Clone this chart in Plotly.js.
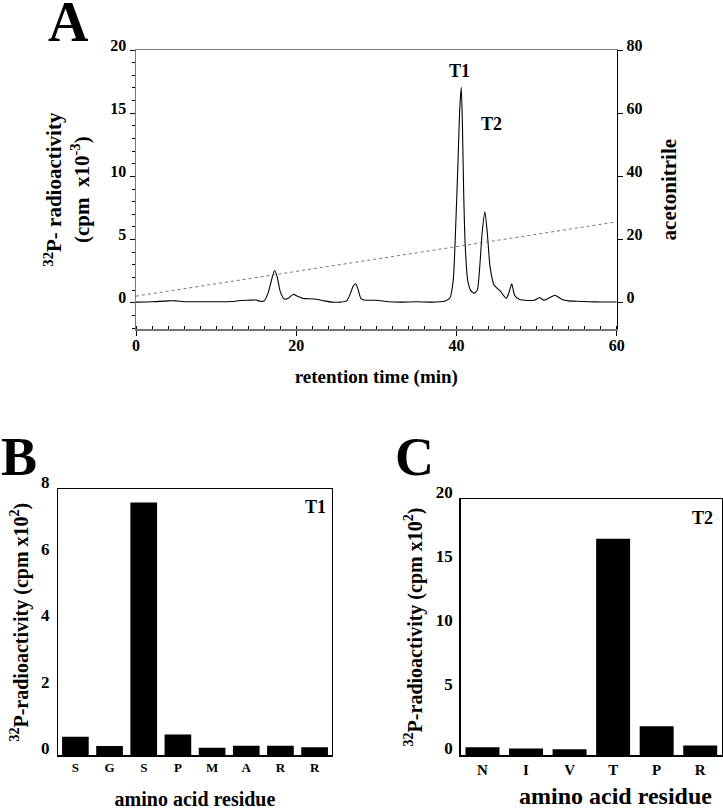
<!DOCTYPE html>
<html>
<head>
<meta charset="utf-8">
<script src="https://cdn.plot.ly/plotly-3.0.1.min.js"></script>
<style>html,body{margin:0;padding:0;background:#fff;}#chart{width:723px;height:810px;}</style>
</head>
<body>
<div id="chart"></div>
<script>
// Panel A: HPLC chromatogram
const retentionTime = [0, 2, 4, 5, 6, 8, 10, 12, 13, 14, 15, 15.5, 16, 16.5, 17, 17.3, 17.6, 18, 18.5, 19, 19.6, 20.2, 20.8, 21.5, 22.5, 23.5, 24.5, 25.5, 26.3, 26.8, 27.1, 27.4, 27.7, 28.1, 28.6, 30, 31.5, 33, 35, 37, 38.5, 39.2, 39.6, 39.9, 40.2, 40.4, 40.6, 40.75, 40.9, 41.1, 41.4, 41.75, 42.2, 42.6, 42.9, 43.2, 43.55, 43.85, 44.2, 44.7, 45.5, 46.2, 46.5, 46.9, 47.25, 47.75, 48.5, 49.7, 50.4, 50.9, 51.5, 52.3, 53.2, 54, 55, 56.5, 58, 60];
const radioactivity = [0.05, 0.08, 0.15, 0.15, 0.08, 0.08, 0.08, 0.1, 0.18, 0.2, 0.22, 0.12, 0.15, 0.8, 2.0, 2.55, 2.1, 0.9, 0.3, 0.35, 0.66, 0.5, 0.35, 0.32, 0.28, 0.15, 0.05, 0.05, 0.15, 0.8, 1.3, 1.5, 1.1, 0.3, 0.2, 0.2, 0.08, 0.05, 0.08, 0.05, 0.12, 0.4, 1.8, 6.0, 11.3, 15.2, 17.05, 13.9, 8.7, 4.4, 1.8, 1.0, 0.74, 1.0, 2.8, 5.5, 7.2, 5.5, 2.8, 1.4, 0.9, 0.35, 0.7, 1.5, 0.6, 0.3, 0.2, 0.2, 0.4, 0.2, 0.35, 0.6, 0.25, 0.15, 0.12, 0.08, 0.06, 0.06];
const gradientTime = [0, 60];
const acetonitrile = [2.1, 25.6];
const ticksA_x = [0, 20, 40, 60];
const ticksA_y = [0, 5, 10, 15, 20];
const ticksA_y2 = [0, 20, 40, 60, 80];

// Panel B: T1 sequencing
const residuesT1 = ['S', 'G', 'S', 'P', 'M', 'A', 'R', 'R'];
const countsT1 = [0.55, 0.27, 7.6, 0.62, 0.22, 0.28, 0.28, 0.23];
const ticksB_y = [0, 2, 4, 6, 8];

// Panel C: T2 sequencing
const residuesT2 = ['N', 'I', 'V', 'T', 'P', 'R'];
const countsT2 = [0.6, 0.5, 0.45, 16.9, 2.25, 0.75];
const ticksC_y = [0, 5, 10, 15, 20];

const FONT = 'Liberation Serif, Times New Roman, serif';
const W = 723, H = 810;
const px = v => v / W;
const py = v => 1 - v / H;
const bold = arr => arr.map(v => '<b>' + v + '</b>');

const idxT1 = residuesT1.map((_, i) => i);
const idxT2 = residuesT2.map((_, i) => i);

const traces = [
  {x: retentionTime, y: radioactivity, type: 'scatter', mode: 'lines',
   line: {color: '#000', width: 1.1, shape: 'spline', smoothing: 0.6},
   xaxis: 'x', yaxis: 'y', hoverinfo: 'skip'},
  {x: gradientTime, y: acetonitrile, type: 'scatter', mode: 'lines',
   line: {color: '#666', width: 0.9, dash: 'dot'},
   xaxis: 'x', yaxis: 'y2', hoverinfo: 'skip'},
  {x: idxT1, y: countsT1, type: 'bar', marker: {color: '#000'},
   xaxis: 'x2', yaxis: 'y3'},
  {x: idxT2, y: countsT2, type: 'bar', marker: {color: '#000'},
   xaxis: 'x3', yaxis: 'y4'}
];

const f = (s) => ({family: FONT, size: s, color: '#000'});

const layout = {
  width: W, height: H,
  margin: {l: 0, r: 0, t: 0, b: 0},
  paper_bgcolor: '#fff', plot_bgcolor: '#fff',
  showlegend: false,
  font: {family: FONT, color: '#000'},
  bargap: 0.22,
  xaxis: {
    domain: [px(136), px(616.7)], anchor: 'y', range: [0, 60],
    tickvals: ticksA_x, ticktext: bold(ticksA_x), ticks: 'outside', ticklen: 5, tickcolor: '#000',
    minor: {dtick: 2, ticks: 'inside', ticklen: 3, tickcolor: '#000', showgrid: false},
    showline: true, linecolor: '#777', linewidth: 1.5, mirror: true,
    showgrid: false, zeroline: false, tickfont: f(16), ticklabelstandoff: -4,
    title: {text: '<b>retention time (min)</b>', font: f(19), standoff: 16}
  },
  yaxis: {
    domain: [py(329.3), py(50)], anchor: 'x', range: [-2.1, 20],
    tickvals: ticksA_y, ticktext: bold(ticksA_y), ticks: 'outside', ticklen: 5, tickcolor: '#000',
    minor: {dtick: 1, ticks: 'outside', ticklen: 3, tickcolor: '#000', showgrid: false},
    showline: true, linecolor: '#777', linewidth: 1.5,
    showgrid: false, zeroline: false, tickfont: f(16), ticklabelshift: -5,
    title: {text: '<b><sup>32</sup>P- radioactivity<br>(cpm  x10<sup>-3</sup>)</b>', font: f(21), standoff: 15}
  },
  yaxis2: {
    overlaying: 'y', side: 'right', anchor: 'x', range: [-8.4, 80],
    tickvals: ticksA_y2, ticktext: bold(ticksA_y2), ticks: 'outside', ticklen: 5, tickcolor: '#000',
    showline: true, linecolor: '#000', linewidth: 1.5,
    showgrid: false, zeroline: false, tickfont: f(16), ticklabelshift: -5,
    title: {text: '<b>acetonitrile</b>', font: f(21), standoff: 20}
  },
  xaxis2: {
    domain: [px(58.3), px(331.7)], anchor: 'y3', range: [-0.5, residuesT1.length - 0.5],
    tickvals: idxT1, ticktext: bold(residuesT1), ticks: '', showline: true, linecolor: '#000', linewidth: 1.5, mirror: true,
    showgrid: false, zeroline: false, tickfont: f(13),
    title: {text: '<b>amino acid residue</b>', font: f(20), standoff: 24}
  },
  yaxis3: {
    domain: [py(755), py(489.3)], anchor: 'x2', range: [0, 8],
    tickvals: ticksB_y, ticktext: bold(ticksB_y), ticks: '', showline: true, linecolor: '#000', linewidth: 1.5, mirror: true,
    showgrid: false, zeroline: false, tickfont: f(17), ticklabelshift: -7, ticklabelstandoff: 4,
    title: {text: '<b><sup>32</sup>P-radioactivity (cpm x10<sup>2</sup>)</b>', font: f(20), standoff: 7}
  },
  xaxis3: {
    domain: [px(460.7), px(722)], anchor: 'y4', range: [-0.5, residuesT2.length - 0.5],
    tickvals: idxT2, ticktext: bold(residuesT2), ticks: '', showline: true, linecolor: '#000', linewidth: 1.5, mirror: true,
    showgrid: false, zeroline: false, tickfont: f(15)
  },
  yaxis4: {
    domain: [py(755), py(499)], anchor: 'x3', range: [0, 20],
    tickvals: ticksC_y, ticktext: bold(ticksC_y), ticks: '', showline: true, linecolor: '#000', linewidth: 1.5, mirror: true,
    showgrid: false, zeroline: false, tickfont: f(17), ticklabelshift: -7, ticklabelstandoff: 3,
    title: {text: '<b><sup>32</sup>P-radioactivity (cpm x10<sup>2</sup>)</b>', font: f(20), standoff: 8}
  },
  annotations: [
    {text: '<b>A</b>', x: px(68), y: py(22), font: f(56)},
    {text: '<b>B</b>', x: px(19), y: py(457), font: f(54)},
    {text: '<b>C</b>', x: px(414), y: py(457), font: f(54)},
    {text: '<b>T1</b>', x: px(459), y: py(71), font: f(18)},
    {text: '<b>T2</b>', x: px(491), y: py(124), font: f(18)},
    {text: '<b>T1</b>', x: px(315), y: py(507), font: f(18)},
    {text: '<b>T2</b>', x: px(702), y: py(518), font: f(18)},
    {text: '<b>amino acid residue</b>', x: px(615), y: py(796), font: f(24)}
  ].map(a => Object.assign({xref: 'paper', yref: 'paper', showarrow: false, xanchor: 'center', yanchor: 'middle'}, a))
};

Plotly.newPlot('chart', traces, layout, {staticPlot: true, displayModeBar: false});
</script>
</body>
</html>
